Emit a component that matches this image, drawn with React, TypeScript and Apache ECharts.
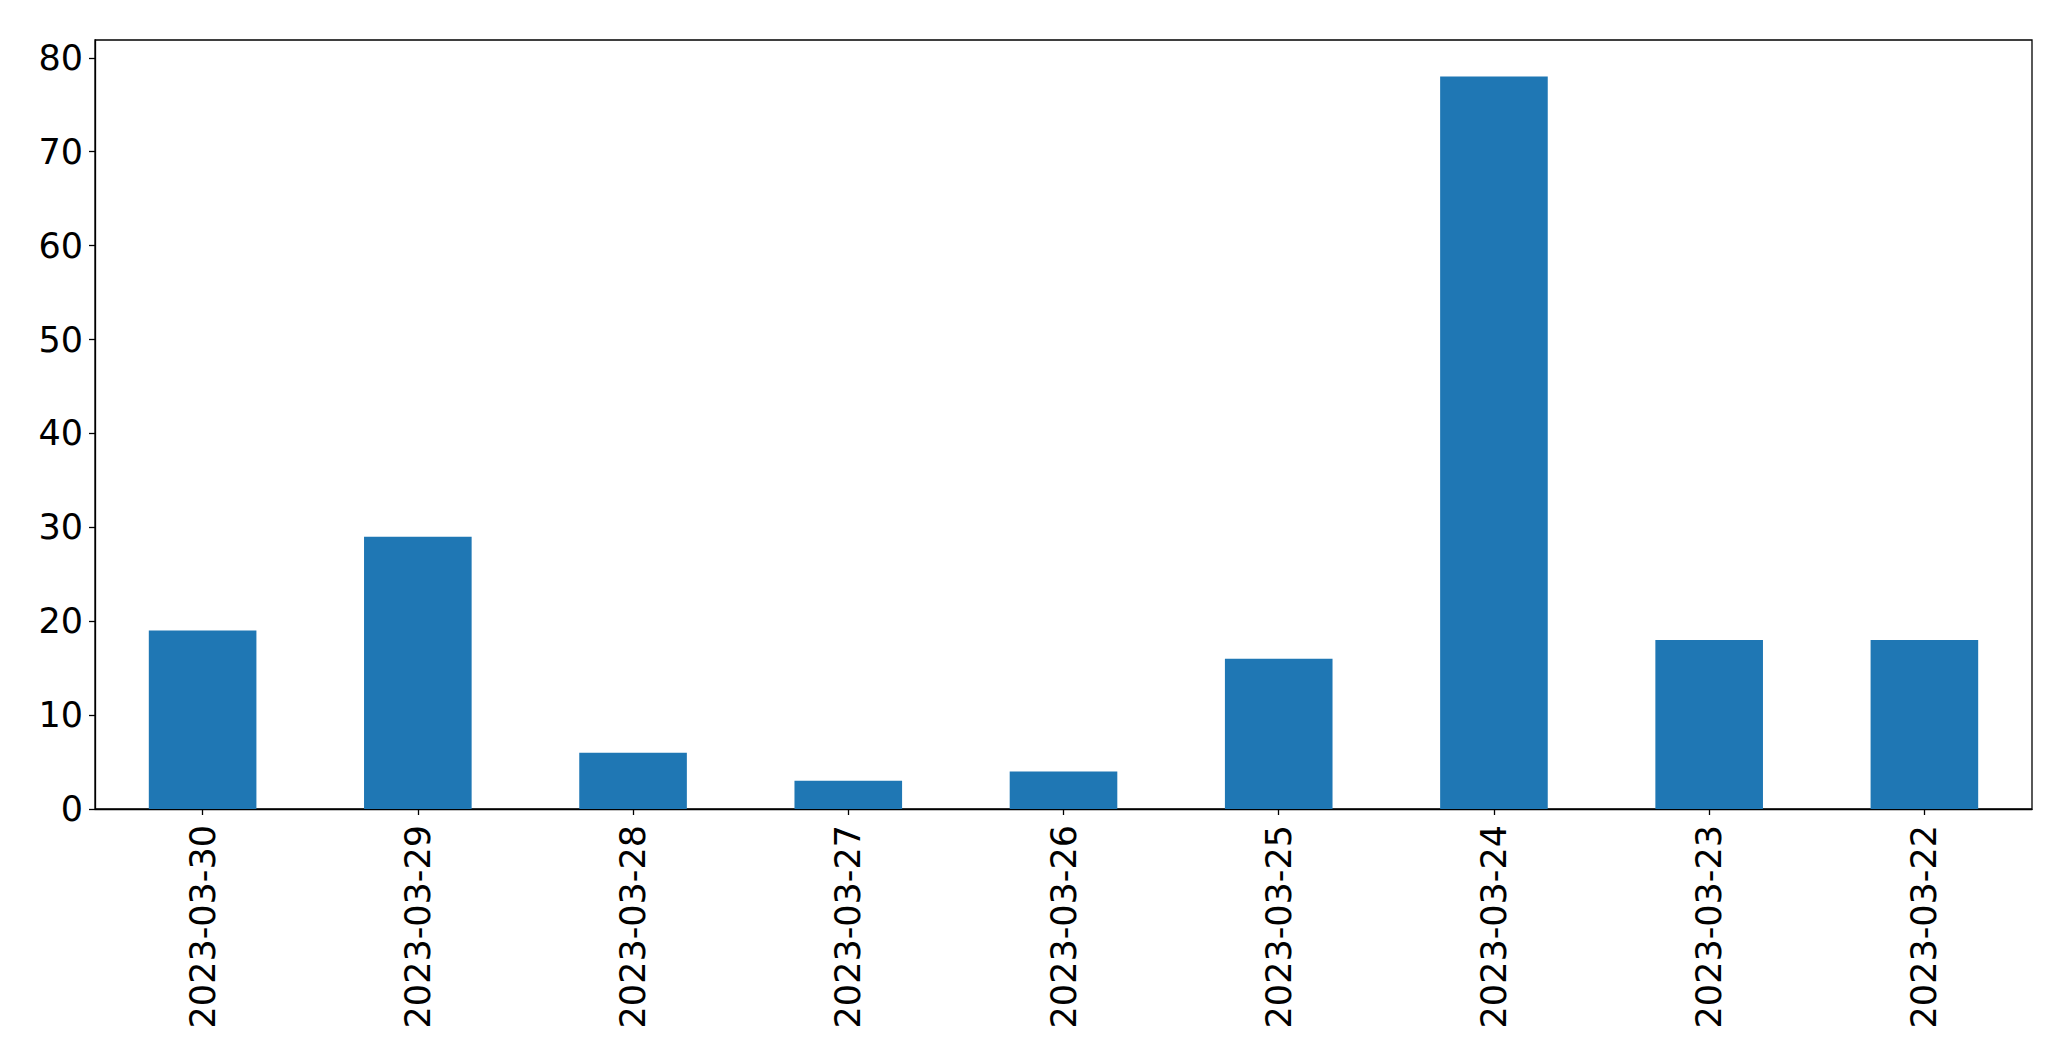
import React, { useEffect, useRef } from "react";
import * as echarts from "echarts";

const categories = [
  "2023-03-30",
  "2023-03-29",
  "2023-03-28",
  "2023-03-27",
  "2023-03-26",
  "2023-03-25",
  "2023-03-24",
  "2023-03-23",
  "2023-03-22",
];
const counts = [19, 29, 6, 3, 4, 16, 78, 18, 18];
const yTicks = [0, 10, 20, 30, 40, 50, 60, 70, 80];

export default function App() {
  const ref = useRef<HTMLDivElement>(null);
  useEffect(() => {
    document.body.style.margin = "0";
    document.body.style.overflow = "hidden";
    if (!ref.current) return;
    const chart = echarts.init(ref.current, null, { renderer: "svg" });
    const yMax = Math.max(...counts) * 1.05;
    chart.setOption({
      animation: false,
      backgroundColor: "#ffffff",
      grid: {
        left: 95,
        right: 39,
        top: 40,
        bottom: 252,
        show: true,
        borderColor: "#000000",
        borderWidth: 1.3,
        containLabel: false,
      },
      xAxis: {
        type: "category",
        data: categories,
        boundaryGap: true,
        axisLine: { show: true, lineStyle: { color: "#000", width: 1.3 } },
        axisTick: {
          show: true,
          alignWithLabel: true,
          length: 6,
          lineStyle: { color: "#000", width: 1.3 },
        },
        axisLabel: {
          rotate: 90,
          interval: 0,
          margin: 16,
          color: "#000",
          fontFamily: "DejaVu Sans",
          fontSize: 35,
        },
      },
      yAxis: {
        type: "value",
        min: 0,
        max: yMax,
        interval: 10,
        splitLine: { show: false },
        axisLine: { show: true, lineStyle: { color: "#000", width: 1.3 } },
        axisTick: {
          show: true,
          length: 6,
          lineStyle: { color: "#000", width: 1.3 },
        },
        axisLabel: {
          showMaxLabel: false,
          margin: 12,
          color: "#000",
          fontFamily: "DejaVu Sans",
          fontSize: 35,
          formatter: (v: number) => (yTicks.includes(v) ? String(v) : ""),
        },
      },
      series: [
        {
          type: "bar",
          data: counts,
          barWidth: "50%",
          itemStyle: { color: "#1f77b4" },
        },
      ],
    });
    return () => chart.dispose();
  }, []);
  return <div ref={ref} style={{ width: 2071, height: 1061 }} />;
}
